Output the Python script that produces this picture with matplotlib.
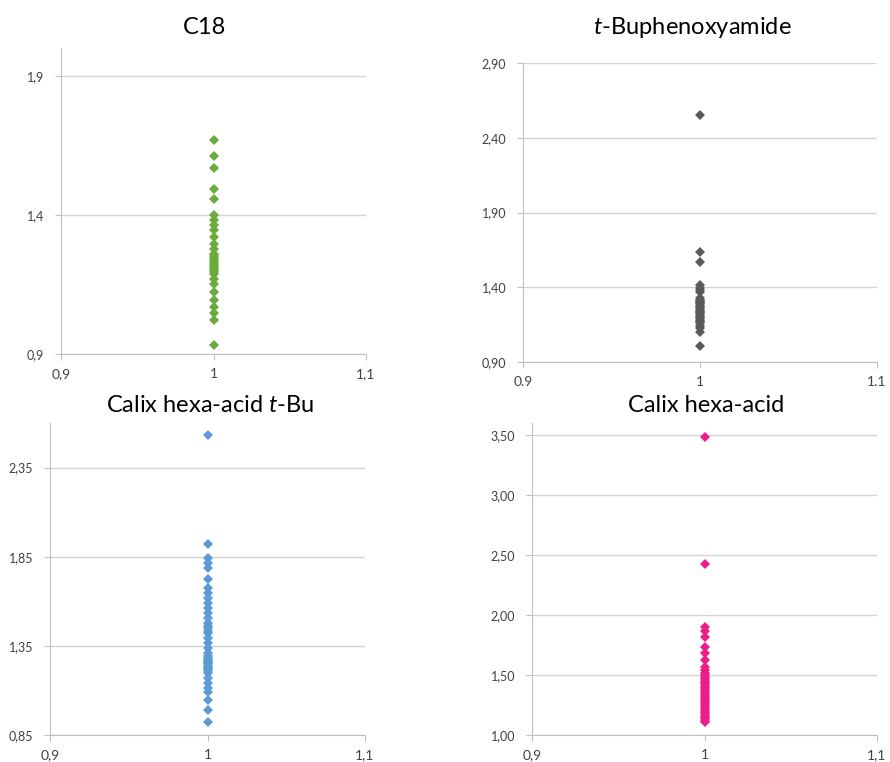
import matplotlib
matplotlib.use("Agg")
import matplotlib.pyplot as plt

plt.rcParams["font.family"] = ["Lato", "DejaVu Sans"]
plt.rcParams["mathtext.fontset"] = "custom"
plt.rcParams["mathtext.rm"] = "Lato"
plt.rcParams["mathtext.it"] = "Lato:italic"

# values (every point sits at x = 1)
c18 = [1.670, 1.613, 1.568, 1.494, 1.458, 1.398, 1.380, 1.362, 1.344, 1.320,
       1.297, 1.279, 1.261, 1.255, 1.249, 1.243, 1.237, 1.231, 1.225, 1.219,
       1.213, 1.207, 1.201, 1.195, 1.189, 1.171, 1.153, 1.123, 1.094, 1.070,
       1.046, 1.022, 0.932]
tbu_phenoxy = [2.552, 1.638, 1.571, 1.415, 1.398, 1.382, 1.365, 1.326, 1.318,
               1.310, 1.301, 1.293, 1.285, 1.276, 1.268, 1.259, 1.251, 1.243,
               1.234, 1.226, 1.218, 1.209, 1.200, 1.192, 1.184, 1.176, 1.167,
               1.159, 1.142, 1.125, 1.100, 1.007]
calix_tbu = [2.530, 1.923, 1.843, 1.815, 1.787, 1.725, 1.674, 1.646, 1.618,
             1.590, 1.562, 1.534, 1.506, 1.478, 1.463, 1.449, 1.435, 1.421,
             1.393, 1.365, 1.337, 1.309, 1.295, 1.281, 1.274, 1.267, 1.260,
             1.253, 1.246, 1.239, 1.232, 1.225, 1.218, 1.211, 1.197, 1.170,
             1.140, 1.115, 1.093, 1.047, 0.990, 0.925]
calix_acid = [3.481, 2.425, 1.903, 1.870, 1.819, 1.736, 1.681, 1.625, 1.569,
              1.540, 1.514, 1.500, 1.486, 1.472, 1.458, 1.444, 1.430, 1.417,
              1.403, 1.389, 1.375, 1.361, 1.347, 1.333, 1.320, 1.306, 1.292,
              1.278, 1.264, 1.250, 1.236, 1.222, 1.208, 1.194, 1.181, 1.165,
              1.150, 1.140, 1.130, 1.120, 1.111]

titles = ["C18", "$\\mathit{t}$-Buphenoxyamide",
          "Calix hexa-acid $\\mathit{t}$-Bu", "Calix hexa-acid"]
colors = ["#6aab3c", "#5a5a5a", "#5b9bd5", "#ec1d84"]
series = [c18, tbu_phenoxy, calix_tbu, calix_acid]

y_ticks = [[0.9, 1.4, 1.9],
           [0.9, 1.4, 1.9, 2.4, 2.9],
           [0.85, 1.35, 1.85, 2.35],
           [1.0, 1.5, 2.0, 2.5, 3.0, 3.5]]
y_labels = [["0,9", "1,4", "1,9"],
            ["0,90", "1,40", "1,90", "2,40", "2,90"],
            ["0,85", "1,35", "1,85", "2,35"],
            ["1,00", "1,50", "2,00", "2,50", "3,00", "3,50"]]
y_lims = [(0.9, 2.0), (0.9, 2.9), (0.85, 2.6), (1.0, 3.6)]
x_ticks = [0.9, 1.0, 1.1]
x_labels = [["0,9", "1", "1,1"], ["0.9", "1", "1.1"],
            ["0,9", "1", "1,1"], ["0,9", "1", "1,1"]]

W, H = 890, 762
# axes boxes in pixels: left, top, right, bottom
boxes = [(61, 48, 366, 354), (523, 63, 877, 362),
         (50, 423, 365, 735), (532, 423, 877, 735)]
title_pos = [(205, 27), (692, 27), (210, 406), (706, 406)]

fig = plt.figure(figsize=(W / 100, H / 100), dpi=100)

for i in range(4):
    l, t, r, b = boxes[i]
    ax = fig.add_axes([l / W, 1 - b / H, (r - l) / W, (b - t) / H])
    ax.plot([1.0] * len(series[i]), series[i], linestyle="none", marker="D",
            markersize=5.5, color=colors[i], markeredgewidth=0)
    ax.set_xlim(0.9, 1.1)
    ax.set_ylim(*y_lims[i])
    ax.set_xticks(x_ticks)
    ax.set_xticklabels(x_labels[i], fontsize=10, color="#404040")
    ax.set_yticks(y_ticks[i])
    ax.set_yticklabels(y_labels[i], fontsize=9, color="#404040")
    ax.grid(axis="y", color="#d4d4d4", linewidth=1)
    ax.set_axisbelow(True)
    for s in ["top", "right"]:
        ax.spines[s].set_visible(False)
    for s in ["left", "bottom"]:
        ax.spines[s].set_color("#bfbfbf")
    ax.tick_params(axis="both", length=4, color="#bfbfbf")
    ax.tick_params(axis="y", pad=8)
    ax.tick_params(axis="x", pad=6)
    tx, ty = title_pos[i]
    fig.text(tx / W, 1 - ty / H, titles[i], ha="center", va="center",
             fontsize=17, color="#000000")

fig.savefig("out.png", dpi=100)
